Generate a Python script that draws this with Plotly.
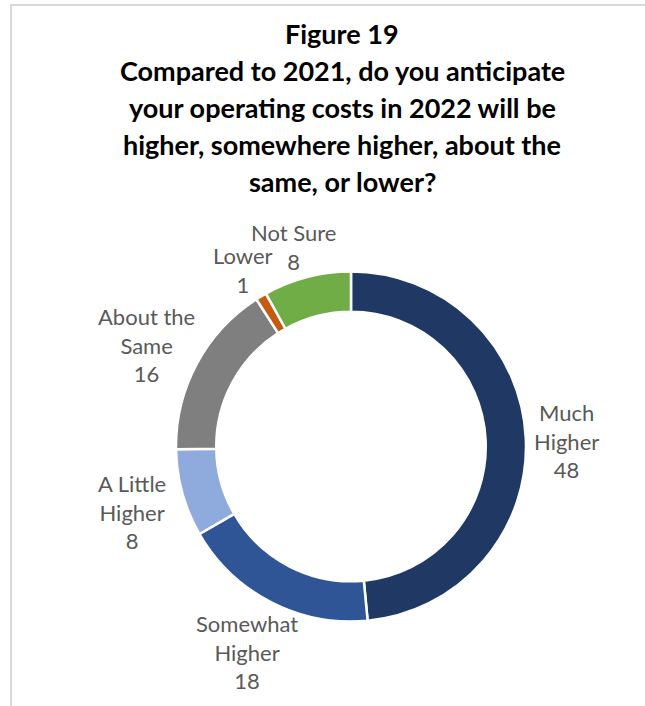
import math
import plotly.graph_objects as go

categories = ["Much Higher", "Somewhat Higher", "A Little Higher", "About the Same", "Lower", "Not Sure"]
label_lines = ["Much<br>Higher", "Somewhat<br>Higher", "A Little<br>Higher", "About the<br>Same", "Lower", "Not Sure"]
values = [48, 18, 8, 16, 1, 8]
colors = ["#203864", "#2F5597", "#8FAADC", "#7F7F7F", "#C55A11", "#70AD47"]
title_lines = [
    "Figure 19",
    "Compared to 2021, do you anticipate",
    "your operating costs in 2022 will be",
    "higher, somewhere higher, about the",
    "same, or lower?",
]

W, H = 645, 706
CX, CY = 351, 446.5   # pie centre (px from top-left)
R = 175               # outer radius (px)
HOLE = 0.77

fig = go.Figure()
fig.add_trace(go.Pie(
    labels=categories, values=values, sort=False, direction="clockwise", rotation=0,
    hole=HOLE, marker=dict(colors=colors, line=dict(color="white", width=2.5)),
    textinfo="none", hoverinfo="label+value", showlegend=False,
    domain=dict(x=[(CX - R) / W, (CX + R) / W], y=[1 - (CY + R) / H, 1 - (CY - R) / H]),
))

# data labels placed around the ring, from slice mid-angles
LFS = 22
LINE_H = LFS * 1.3
CHAR_W = LFS * 0.5
gap = 8
y_shift = 5
total = sum(values)
cum = 0
annotations = []
for lab, v in zip(label_lines, values):
    mid = (cum + v / 2) / total * 2 * math.pi
    cum += v
    dx, dy = math.sin(mid), -math.cos(mid)
    px, py = CX + (R + gap) * dx, CY + (R + gap) * dy
    lines = lab.split("<br>") + [str(v)]
    w = max(len(s) for s in lines) * CHAR_W
    h = len(lines) * LINE_H
    tx, ty = px + dx * w / 2, py + dy * h / 2 + y_shift
    annotations.append(dict(
        x=tx / W, y=1 - ty / H, xref="paper", yref="paper",
        text=lab + "<br>" + str(v), showarrow=False, xanchor="center", yanchor="middle",
        align="center", font=dict(family="Lato", size=LFS, color="#595959"),
    ))

for i, line in enumerate(title_lines):
    annotations.append(dict(
        x=342 / W, y=1 - (34 + i * 36.8) / H, xref="paper", yref="paper", text="<b>" + line + "</b>",
        showarrow=False, xanchor="center", yanchor="middle", align="center",
        font=dict(family="Lato", size=27, color="black"),
    ))

fig.update_layout(
    width=W, height=H, margin=dict(l=0, r=0, t=0, b=0),
    paper_bgcolor="white", plot_bgcolor="white",
    annotations=annotations,
    shapes=[
        dict(type="line", xref="paper", yref="paper", x0=10 / W, x1=1, y0=1 - 5 / H, y1=1 - 5 / H,
             line=dict(color="#D9D9D9", width=2)),
        dict(type="line", xref="paper", yref="paper", x0=11 / W, x1=11 / W, y0=0, y1=1 - 5 / H,
             line=dict(color="#D9D9D9", width=2)),
    ],
)

fig.write_html("out.html", config={"displayModeBar": False},
               post_script="document.body.style.margin='0';document.body.style.overflow='hidden';")
